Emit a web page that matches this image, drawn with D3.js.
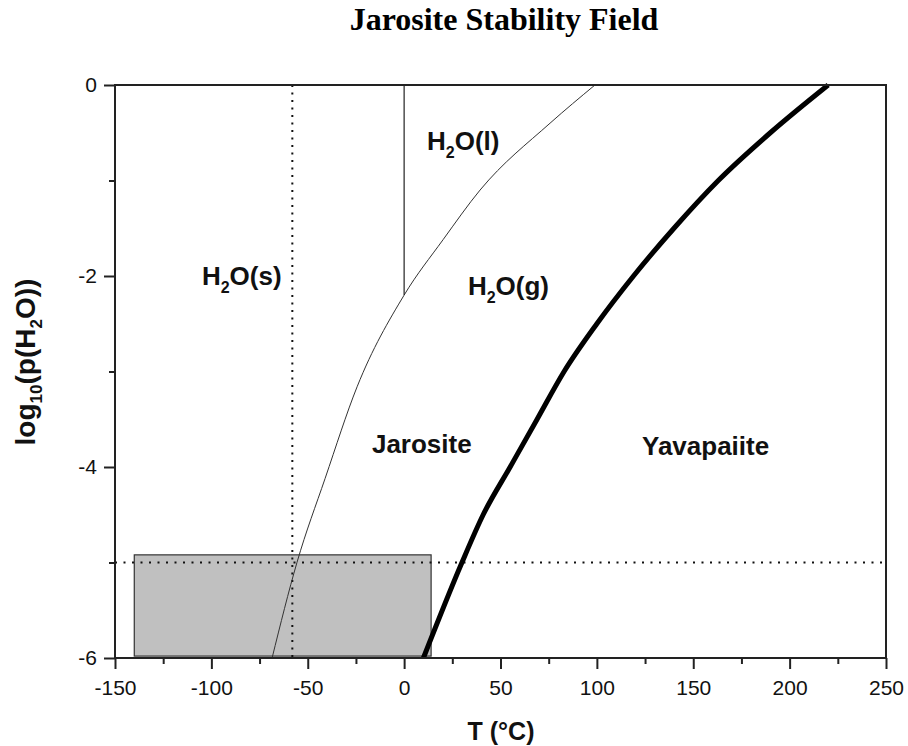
<!DOCTYPE html>
<html>
<meta charset="utf-8">
<head>
    <title>Jarosite Stability Field</title>
    <script src="https://d3js.org/d3.v7.min.js"></script>
    <style>
    body { margin: 0; background: white; }
    svg { display: block; }
    .tick text { font-family: "Liberation Sans", Arial, sans-serif; font-size: 21px; fill: #111; }
    .lbl { font-family: "Liberation Sans", Arial, sans-serif; font-weight: bold; fill: #111; }
    </style>
</head>
<body>
<script>

// Water vapour pressure curve (ice / liquid), T in degC, log10 p in bar
var vaporT    = [-68.5, -55.6, -41, -24.4, 0, 20.2, 39.4, 75.7, 99];
var vaporLogP = [-6, -5, -4.12, -3.16, -2.2, -1.62, -1.1, -0.4, 0];

// Jarosite / yavapaiite boundary
var boundaryT    = [10, 30, 41, 55, 69, 83, 100, 119, 140, 163, 190, 220];
var boundaryLogP = [-6, -5, -4.5, -4, -3.5, -3, -2.5, -2, -1.5, -1, -0.5, 0];

// ice / liquid line at 0 degC
var meltT    = [0, 0];
var meltLogP = [-2.2, 0];

// reference lines (dotted)
var frostT = -58;
var refLogP = -5;

// shaded box
var boxT    = [-140, 14];
var boxLogP = [-5.98, -4.92];

// ticks
var xMajor = [-150, -100, -50, 0, 50, 100, 150, 200, 250];
var xMinor = [-125, -75, -25, 25, 75, 125, 175, 225];
var yMajor = [-6, -4, -2, 0];
var yMinor = [-5, -3, -1];

var width = 908, height = 746;

var svg = d3.select("body").append("svg")
    .attr("width", width)
    .attr("height", height);

var x = d3.scaleLinear().domain([-150, 250]).range([115, 886]);
var y = d3.scaleLinear().domain([-6, 0]).range([658, 85]);

// title
svg.append("text")
    .attr("x", 504).attr("y", 30)
    .attr("text-anchor", "middle")
    .style("font-family", "'Liberation Serif', 'Times New Roman', serif")
    .style("font-weight", "bold")
    .style("font-size", "32px")
    .text("Jarosite Stability Field");

var g = svg.append("g");

// shaded box
g.append("rect")
    .attr("x", x(boxT[0]))
    .attr("y", y(boxLogP[1]))
    .attr("width", x(boxT[1]) - x(boxT[0]))
    .attr("height", y(boxLogP[0]) - y(boxLogP[1]))
    .attr("fill", "#c0c0c0")
    .attr("stroke", "#333")
    .attr("stroke-width", 1.2);

// dotted reference lines
g.append("line")
    .attr("x1", x(frostT)).attr("x2", x(frostT))
    .attr("y1", y(0)).attr("y2", y(-6))
    .attr("stroke", "#111").attr("stroke-width", 2)
    .attr("stroke-dasharray", "2,5.5");

g.append("line")
    .attr("x1", x(-150)).attr("x2", x(250))
    .attr("y1", y(refLogP)).attr("y2", y(refLogP))
    .attr("stroke", "#111").attr("stroke-width", 2)
    .attr("stroke-dasharray", "2,6.5");

var line = d3.line()
    .x(function(d) { return x(d[0]); })
    .y(function(d) { return y(d[1]); });

var smooth = d3.line()
    .curve(d3.curveMonotoneX)
    .x(function(d) { return x(d[0]); })
    .y(function(d) { return y(d[1]); });

// vapour pressure curve
g.append("path")
    .datum(d3.zip(vaporT, vaporLogP))
    .attr("fill", "none")
    .attr("stroke", "#333")
    .attr("stroke-width", 1)
    .attr("d", smooth);

// melting line
g.append("path")
    .datum(d3.zip(meltT, meltLogP))
    .attr("fill", "none")
    .attr("stroke", "#222")
    .attr("stroke-width", 1.2)
    .attr("d", line);

// jarosite / yavapaiite boundary
g.append("path")
    .datum(d3.zip(boundaryT, boundaryLogP))
    .attr("fill", "none")
    .attr("stroke", "#000")
    .attr("stroke-width", 5)
    .attr("stroke-linejoin", "round")
    .attr("d", smooth);

// frame
svg.append("rect")
    .attr("x", x(-150)).attr("y", y(0))
    .attr("width", x(250) - x(-150))
    .attr("height", y(-6) - y(0))
    .attr("fill", "none")
    .attr("stroke", "#222")
    .attr("stroke-width", 2);

// axes
svg.append("g")
    .attr("transform", "translate(0," + y(-6) + ")")
    .call(d3.axisBottom(x).tickValues(xMajor).tickSize(11).tickPadding(11).tickFormat(d3.format("d")));
svg.append("g")
    .attr("transform", "translate(0," + y(-6) + ")")
    .call(d3.axisBottom(x).tickValues(xMinor).tickSize(6).tickFormat(""));

svg.append("g")
    .attr("transform", "translate(" + x(-150) + ",0)")
    .call(d3.axisLeft(y).tickValues(yMajor).tickSize(11).tickPadding(7).tickFormat(d3.format("d")));
svg.append("g")
    .attr("transform", "translate(" + x(-150) + ",0)")
    .call(d3.axisLeft(y).tickValues(yMinor).tickSize(6).tickFormat(""));

svg.selectAll(".domain").remove();
svg.selectAll(".tick line").attr("stroke", "#222").attr("stroke-width", 2);
svg.selectAll(".tick text").text(function() { return this.textContent.replace("\u2212", "-"); });

// axis titles
svg.append("text")
    .attr("class", "lbl")
    .attr("x", 501).attr("y", 740)
    .attr("text-anchor", "middle")
    .style("font-size", "25px")
    .text("T (\u00b0C)");

var yt = svg.append("text")
    .attr("class", "lbl")
    .attr("transform", "translate(35,362) rotate(-90)")
    .attr("text-anchor", "middle")
    .style("font-size", "28px");
yt.append("tspan").text("log");
yt.append("tspan").attr("dy", 7).style("font-size", "17px").text("10");
yt.append("tspan").attr("dy", -7).text("(p(H");
yt.append("tspan").attr("dy", 7).style("font-size", "17px").text("2");
yt.append("tspan").attr("dy", -7).text("O))");

// region labels
var labels = [
    { t: [-104.9, -2.09], parts: ["H", "2", "O(s)"] },
    { t: [11.9, -0.68],   parts: ["H", "2", "O(l)"] },
    { t: [33.1, -2.2],    parts: ["H", "2", "O(g)"] },
    { t: [-16.7, -3.85],  parts: ["Jarosite"] },
    { t: [123.4, -3.87],  parts: ["Yavapaiite"] }
];

labels.forEach(function(l) {
    var txt = svg.append("text")
        .attr("class", "lbl")
        .attr("x", x(l.t[0]))
        .attr("y", y(l.t[1]))
        .style("font-size", "26px");
    if (l.parts.length === 1) {
        txt.text(l.parts[0]);
    } else {
        txt.append("tspan").text(l.parts[0]);
        txt.append("tspan").attr("dy", 8).style("font-size", "16px").text(l.parts[1]);
        txt.append("tspan").attr("dy", -8).text(l.parts[2]);
    }
});

</script>
</body>
</html>
